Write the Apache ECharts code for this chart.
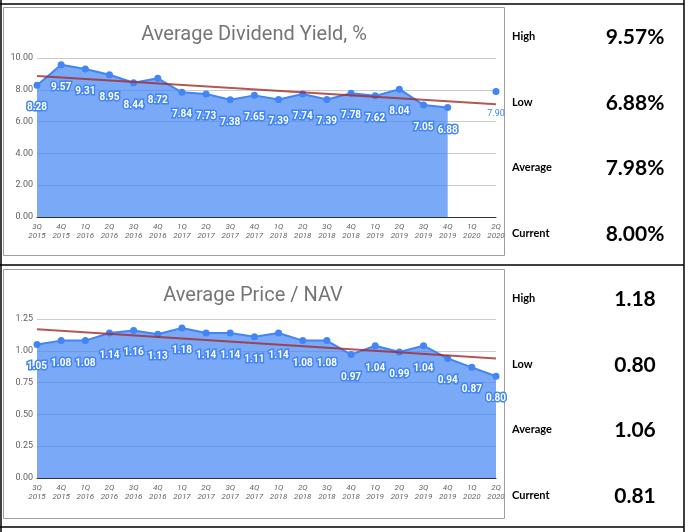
<!DOCTYPE html>
<html>
<head>
<meta charset="utf-8">
<script src="https://cdn.jsdelivr.net/npm/echarts@6/dist/echarts.min.js"></script>
<style>
  html, body { margin: 0; padding: 0; background: #fff; }
  #chart { width: 688px; height: 532px; }
</style>
</head>
<body>
<div id="chart"></div>
<script>
'use strict';

// categories (quarters)
var quarters = ['3Q 2015', '4Q 2015', '1Q 2016', '2Q 2016', '3Q 2016', '4Q 2016', '1Q 2017', '2Q 2017',
    '3Q 2017', '4Q 2017', '1Q 2018', '2Q 2018', '3Q 2018', '4Q 2018', '1Q 2019', '2Q 2019',
    '3Q 2019', '4Q 2019', '1Q 2020', '2Q 2020'];

// average dividend yield, %
var divYield = [8.28, 9.57, 9.31, 8.95, 8.44, 8.72, 7.84, 7.73, 7.38, 7.65, 7.39, 7.74, 7.39, 7.78,
    7.62, 8.04, 7.05, 6.88, null, 7.90];
// trendline ends
var divTrend = [8.87, 7.09];

// average price / NAV
var priceNav = [1.05, 1.08, 1.08, 1.14, 1.16, 1.13, 1.18, 1.14, 1.14, 1.11, 1.14, 1.08, 1.08, 0.97,
    1.04, 0.99, 1.04, 0.94, 0.87, 0.80];
var navTrend = [1.17, 0.94];

// side panel
var statLabels = ['High', 'Low', 'Average', 'Current'];
var divStats = ['9.57%', '6.88%', '7.98%', '8.00%'];
var navStats = ['1.18', '0.80', '1.06', '0.81'];

var BLUE = '#4285f4';
var chart = echarts.init(document.getElementById('chart'), null, { renderer: 'canvas' });

// trend series: only the two ends, the rest joined across nulls
function trendData(ends) {
    var arr = quarters.map(function() { return null; });
    arr[0] = ends[0];
    arr[arr.length - 1] = ends[1];
    return arr;
}

function xAxisCfg(idx) {
    return {
        type: 'category',
        gridIndex: idx,
        data: quarters,
        boundaryGap: false,
        axisTick: { show: false },
        axisLine: { lineStyle: { color: '#333', width: 1 } },
        axisLabel: {
            interval: 0,
            margin: 5,
            fontSize: 8,
            lineHeight: 9,
            fontStyle: 'italic',
            color: '#666',
            fontFamily: 'Roboto',
            formatter: function(v) { return v.replace(' ', '\n'); }
        }
    };
}

function yAxisCfg(idx, max, step) {
    return {
        type: 'value',
        gridIndex: idx,
        min: 0,
        max: max,
        interval: step,
        axisLine: { show: false },
        axisTick: { show: false },
        splitLine: { lineStyle: { color: '#cccccc', width: 1 } },
        axisLabel: {
            margin: 4,
            fontSize: 9,
            color: '#616161',
            fontFamily: 'Roboto',
            formatter: function(v) { return v.toFixed(2); }
        }
    };
}

var pointLabel = {
    show: true,
    position: 'bottom',
    distance: 14,
    fontSize: 10,
    fontWeight: 'bold',
    fontFamily: 'Roboto',
    color: '#fff',
    textBorderColor: BLUE,
    textBorderWidth: 3,
    formatter: function(p) { return Number(p.value).toFixed(2); }
};

function mainSeries(idx, values) {
    return {
        type: 'line',
        xAxisIndex: idx,
        yAxisIndex: idx,
        data: values,
        connectNulls: false,
        symbol: 'circle',
        symbolSize: 7,
        itemStyle: { color: BLUE },
        lineStyle: { color: BLUE, width: 2 },
        areaStyle: { color: BLUE, opacity: 0.7 },
        label: pointLabel,
        z: 2
    };
}

function trendSeries(idx, ends) {
    return {
        type: 'line',
        xAxisIndex: idx,
        yAxisIndex: idx,
        data: trendData(ends),
        connectNulls: true,
        symbol: 'none',
        silent: true,
        lineStyle: { color: '#a52a2a', width: 2, opacity: 0.8 },
        z: 3
    };
}

// last dividend point sits outside the area, its label is plain blue
var divData = divYield.map(function(v, i) {
    if (i === divYield.length - 1) {
        return { value: v, label: { color: BLUE, textBorderWidth: 0, fontWeight: 'normal', fontSize: 9 } };
    }
    return v;
});

// side panel texts and table lines
var graphics = [];
var rowsY = [[36, 102, 167, 233], [298, 364, 429, 495]];
[divStats, navStats].forEach(function(stats, r) {
    stats.forEach(function(val, i) {
        graphics.push({
            type: 'text', x: 512, y: rowsY[r][i],
            style: { text: statLabels[i], font: 'bold 11px Lato', fill: '#000', verticalAlign: 'middle' }
        });
        graphics.push({
            type: 'text', x: 635, y: rowsY[r][i] + 1,
            style: { text: val, font: 'bold 21px Lato', fill: '#000', align: 'center', verticalAlign: 'middle' }
        });
    });
});
// chart frames
graphics.push({ type: 'rect', shape: { x: 3.5, y: 7.5, width: 501, height: 248 },
    style: { fill: 'none', stroke: '#9e9e9e', lineWidth: 1 } });
graphics.push({ type: 'rect', shape: { x: 3.5, y: 269.5, width: 501, height: 249 },
    style: { fill: 'none', stroke: '#9e9e9e', lineWidth: 1 } });
// black table lines
[[0, 4, 684, 4], [0, 265, 684, 265], [0, 527, 684, 527], [1, 0, 1, 532], [684, 0, 684, 532]].forEach(function(l) {
    graphics.push({ type: 'line', shape: { x1: l[0], y1: l[1], x2: l[2], y2: l[3] },
        style: { stroke: '#000', lineWidth: 1.5 } });
});

var option = {
    animation: false,
    textStyle: { fontFamily: 'Roboto' },
    title: [{
        text: 'Average Dividend Yield, %',
        left: 249, top: 20, textAlign: 'center',
        textStyle: { fontSize: 20, fontWeight: 'normal', color: '#757575', fontFamily: 'Roboto' }
    }, {
        text: 'Average Price / NAV',
        left: 248, top: 281, textAlign: 'center',
        textStyle: { fontSize: 20, fontWeight: 'normal', color: '#757575', fontFamily: 'Roboto' }
    }],
    grid: [
        { left: 37, right: 192, top: 58, height: 159 },
        { left: 37, right: 192, top: 319, height: 159 }
    ],
    xAxis: [xAxisCfg(0), xAxisCfg(1)],
    yAxis: [yAxisCfg(0, 10, 2), yAxisCfg(1, 1.25, 0.25)],
    series: [
        mainSeries(0, divData),
        trendSeries(0, divTrend),
        mainSeries(1, priceNav),
        trendSeries(1, navTrend)
    ],
    graphic: graphics
};

chart.setOption(option);
</script>
</body>
</html>
